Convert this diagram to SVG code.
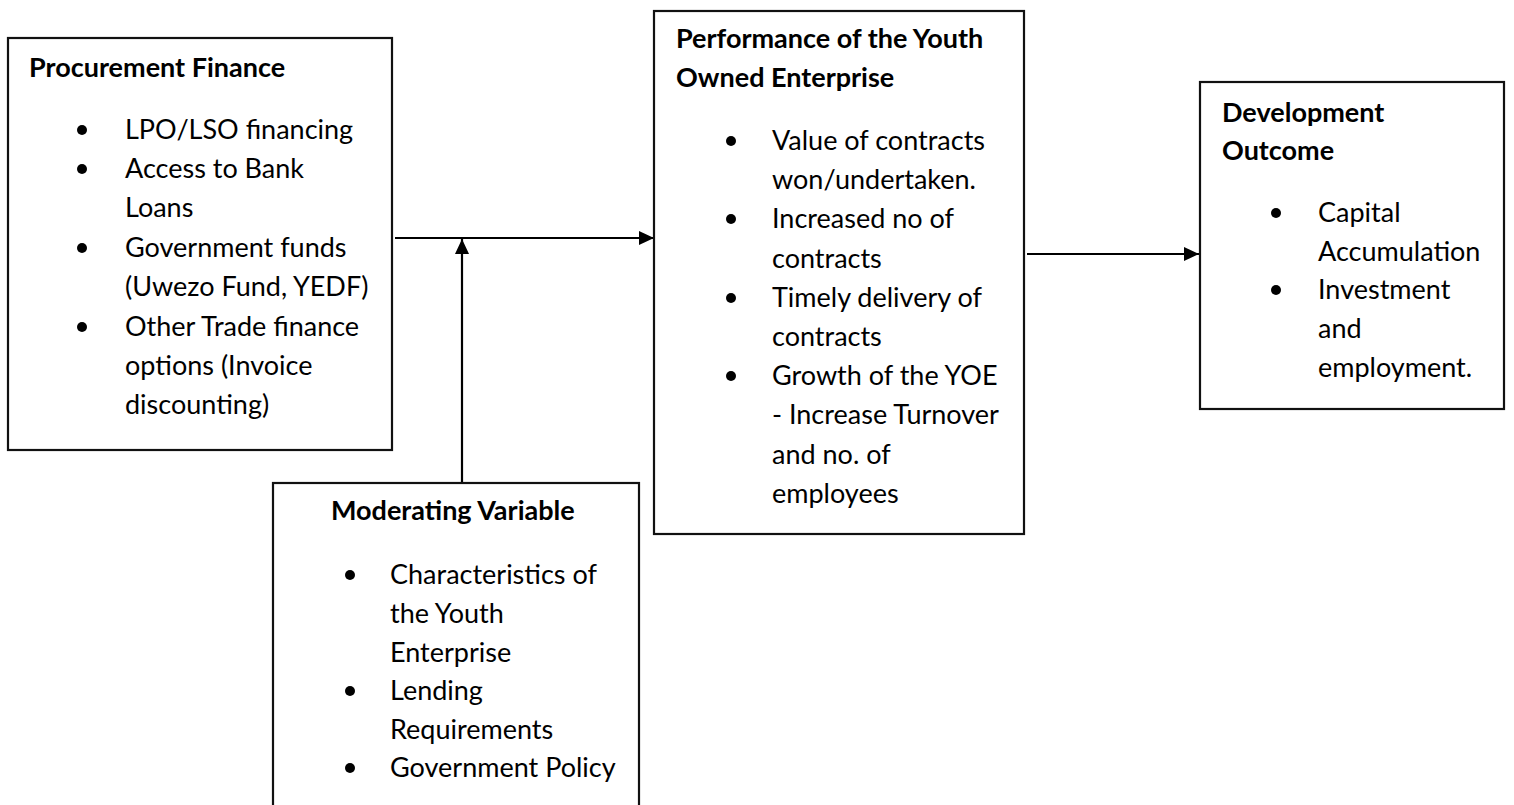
<svg xmlns="http://www.w3.org/2000/svg" width="1514" height="805" viewBox="0 0 1514 805">
  <style>
    .box { fill: #ffffff; stroke: #111111; stroke-width: 2.2; }
    .link { fill: none; stroke: #000000; stroke-width: 2.2; }
    .title { font-family: Lato, "Liberation Sans", sans-serif; font-size: 27px; font-weight: bold; fill: #000000; }
    .item { font-family: Lato, "Liberation Sans", sans-serif; font-size: 27px; fill: #000000; }
    .dot { fill: #000000; }
  </style>
  <defs>
    <marker id="arrow" markerUnits="userSpaceOnUse" markerWidth="15" markerHeight="14" refX="15" refY="7" orient="auto">
      <path d="M0,0 L15,7 L0,14 Z" fill="#000000"/>
    </marker>
  </defs>
  <rect width="1514" height="805" fill="#ffffff"/>

  <!-- Connectors -->
  <g id="connectors">
    <line class="link" x1="395" y1="238" x2="654" y2="238" marker-end="url(#arrow)"/>
    <line class="link" x1="462" y1="483" x2="462" y2="239" marker-end="url(#arrow)"/>
    <line class="link" x1="1027" y1="254" x2="1199" y2="254" marker-end="url(#arrow)"/>
  </g>

  <!-- Independent variable -->
  <g id="procurement-finance">
    <rect class="box" x="8" y="38" width="384" height="412"/>
    <text class="title" x="29" y="77">Procurement Finance</text>
    <circle class="dot" cx="82" cy="130" r="5"/>
    <circle class="dot" cx="82" cy="169" r="5"/>
    <circle class="dot" cx="82" cy="248" r="5"/>
    <circle class="dot" cx="82" cy="327" r="5"/>
    <text class="item" x="125" y="139">LPO/LSO financing</text>
    <text class="item" x="125" y="178">Access to Bank</text>
    <text class="item" x="125" y="217">Loans</text>
    <text class="item" x="125" y="257">Government funds</text>
    <text class="item" x="125" y="296">(Uwezo Fund, YEDF)</text>
    <text class="item" x="125" y="336">Other Trade finance</text>
    <text class="item" x="125" y="375">options (Invoice</text>
    <text class="item" x="125" y="414">discounting)</text>
  </g>

  <!-- Moderating variable -->
  <g id="moderating-variable">
    <rect class="box" x="273" y="483" width="366" height="340"/>
    <text class="title" x="331" y="520">Moderating Variable</text>
    <circle class="dot" cx="350" cy="575" r="5"/>
    <circle class="dot" cx="350" cy="691" r="5"/>
    <circle class="dot" cx="350" cy="768" r="5"/>
    <text class="item" x="390" y="584">Characteristics of</text>
    <text class="item" x="390" y="623">the Youth</text>
    <text class="item" x="390" y="662">Enterprise</text>
    <text class="item" x="390" y="700">Lending</text>
    <text class="item" x="390" y="739">Requirements</text>
    <text class="item" x="390" y="777">Government Policy</text>
  </g>

  <!-- Dependent variable -->
  <g id="yoe-performance">
    <rect class="box" x="654" y="11" width="370" height="523"/>
    <text class="title" x="676" y="48">Performance of the Youth</text>
    <text class="title" x="676" y="87">Owned Enterprise</text>
    <circle class="dot" cx="731" cy="141" r="5"/>
    <circle class="dot" cx="731" cy="219" r="5"/>
    <circle class="dot" cx="731" cy="298" r="5"/>
    <circle class="dot" cx="731" cy="376" r="5"/>
    <text class="item" x="772" y="150">Value of contracts</text>
    <text class="item" x="772" y="189">won/undertaken.</text>
    <text class="item" x="772" y="228">Increased no of</text>
    <text class="item" x="772" y="268">contracts</text>
    <text class="item" x="772" y="307">Timely delivery of</text>
    <text class="item" x="772" y="346">contracts</text>
    <text class="item" x="772" y="385">Growth of the YOE</text>
    <text class="item" x="772" y="424">- Increase Turnover</text>
    <text class="item" x="772" y="464">and no. of</text>
    <text class="item" x="772" y="503">employees</text>
  </g>

  <!-- Outcome -->
  <g id="development-outcome">
    <rect class="box" x="1200" y="82" width="304" height="327"/>
    <text class="title" x="1222" y="122">Development</text>
    <text class="title" x="1222" y="160">Outcome</text>
    <circle class="dot" cx="1276" cy="213" r="5"/>
    <circle class="dot" cx="1276" cy="290" r="5"/>
    <text class="item" x="1318" y="222">Capital</text>
    <text class="item" x="1318" y="261">Accumulation</text>
    <text class="item" x="1318" y="299">Investment</text>
    <text class="item" x="1318" y="338">and</text>
    <text class="item" x="1318" y="377">employment.</text>
  </g>
</svg>
